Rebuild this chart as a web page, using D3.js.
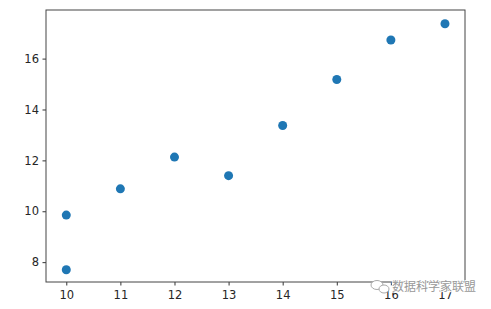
<!DOCTYPE html>
<html>
<head>
<meta charset="utf-8">
<script src="https://cdn.jsdelivr.net/npm/d3@7"></script>
<style>
  body { margin: 0; background: #fff; }
  text { font-family: "DejaVu Sans", sans-serif; }
</style>
</head>
<body>
<svg id="SVG_CONTAINER" width="491" height="309"></svg>
<script>
let d3 = window.d3;

const xValues = [10, 10, 11, 12, 13, 14, 15, 16, 17];
const yValues = [7.70, 9.85, 10.88, 12.13, 11.40, 13.37, 15.18, 16.73, 17.37];
const xTicks = [10, 11, 12, 13, 14, 15, 16, 17];
const yTicks = [8, 10, 12, 14, 16];

const MARGIN = { LEFT: 46, RIGHT: 26, TOP: 10, BOTTOM: 27 };
const width = 491, height = 309;

let svg = d3.select("#SVG_CONTAINER");

let xScale = d3.scaleLinear()
    .domain([9.625, 17.37])
    .range([MARGIN.LEFT, width - MARGIN.RIGHT]);

let yScale = d3.scaleLinear()
    .domain([7.22, 17.91])
    .range([height - MARGIN.BOTTOM, MARGIN.TOP]);

// x axis
let xAxis = svg.append("g")
    .attr("transform", "translate(0," + (height - MARGIN.BOTTOM) + ")")
    .call(d3.axisBottom(xScale).tickValues(xTicks).tickSize(3.5).tickPadding(5.5).tickSizeOuter(0));

// y axis
let yAxis = svg.append("g")
    .attr("transform", "translate(" + MARGIN.LEFT + ",0)")
    .call(d3.axisLeft(yScale).tickValues(yTicks).tickSize(3.5).tickPadding(3.5).tickSizeOuter(0));

[xAxis, yAxis].forEach(function (ax) {
    ax.select(".domain").remove();
    ax.selectAll("line").attr("stroke", "#333");
    ax.selectAll("text")
        .style("font-size", "11.5px")
        .attr("fill", "#262626");
});

// frame
svg.append("rect")
    .attr("x", MARGIN.LEFT)
    .attr("y", MARGIN.TOP)
    .attr("width", width - MARGIN.LEFT - MARGIN.RIGHT)
    .attr("height", height - MARGIN.TOP - MARGIN.BOTTOM)
    .attr("fill", "none")
    .attr("stroke", "#444")
    .attr("stroke-width", 1);

// points
svg.selectAll("circle.pt")
    .data(xValues.map((x, i) => ({ x: x, y: yValues[i] })))
    .enter()
    .append("circle")
    .attr("class", "pt")
    .attr("cx", d => xScale(d.x))
    .attr("cy", d => yScale(d.y))
    .attr("r", 4.5)
    .attr("fill", "#1f77b4");

// watermark
let wm = svg.append("g").attr("transform", "translate(370,290)");
wm.append("ellipse").attr("cx", 7).attr("cy", -5).attr("rx", 6).attr("ry", 4.5)
    .attr("fill", "#fff").attr("stroke", "#aaa").attr("stroke-width", 1);
wm.append("ellipse").attr("cx", 14).attr("cy", -1).attr("rx", 5).attr("ry", 4)
    .attr("fill", "#fff").attr("stroke", "#aaa").attr("stroke-width", 1);
wm.append("text")
    .attr("x", 22)
    .attr("y", 1)
    .text("数据科学家联盟")
    .style("font-family", "'Noto Sans CJK SC'")
    .style("font-size", "12px")
    .attr("fill", "#999")
    .attr("stroke", "#fff")
    .attr("stroke-width", 1.5)
    .attr("paint-order", "stroke");
</script>
</body>
</html>
